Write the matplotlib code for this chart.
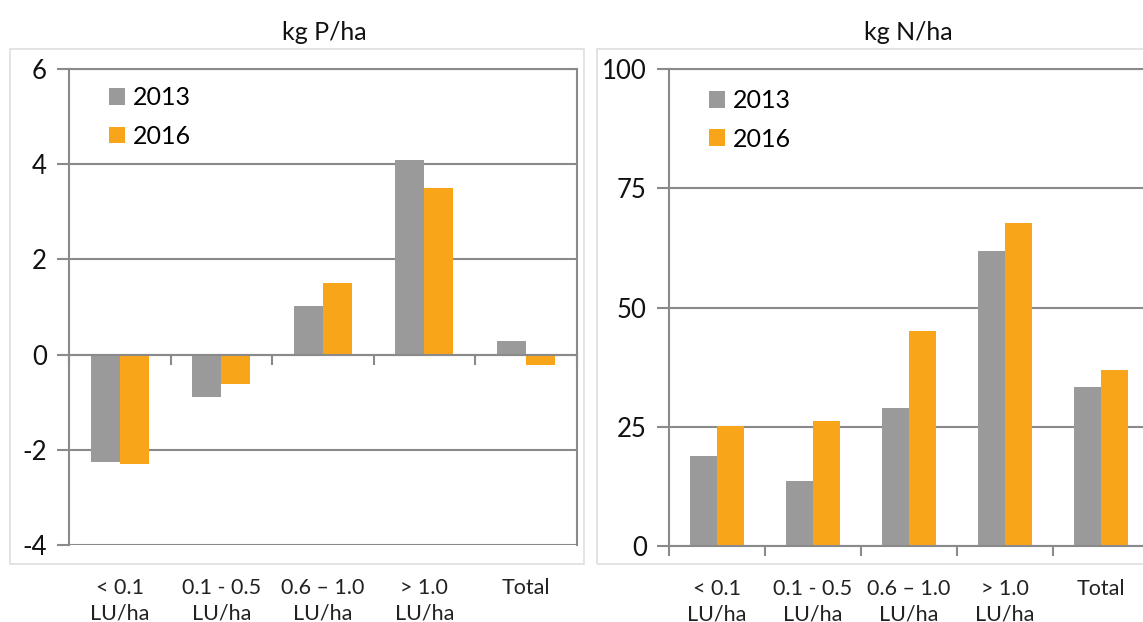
import numpy as np
import matplotlib
matplotlib.use("Agg")
import matplotlib.pyplot as plt
from matplotlib.patches import Rectangle
from matplotlib.transforms import blended_transform_factory

plt.rcParams['font.family'] = ['Lato', 'DejaVu Sans']

# data
categories = ["< 0.1\nLU/ha", "0.1 - 0.5\nLU/ha", "0.6 \u2013 1.0\nLU/ha", "> 1.0\nLU/ha", "Total"]
years = ["2013", "2016"]
p_2013 = [-2.26, -0.90, 1.02, 4.08, 0.28]
p_2016 = [-2.29, -0.62, 1.50, 3.49, -0.22]
n_2013 = [18.9, 13.6, 29.0, 61.9, 33.4]
n_2016 = [25.2, 26.3, 45.1, 67.7, 37.0]
p_ticks = [-4, -2, 0, 2, 4, 6]
n_ticks = [0, 25, 50, 75, 100]

gray = '#9a9a9a'
orange = '#f9a51a'
line_col = '#8a8a8a'

W, H = 1143, 622
fig = plt.figure(figsize=(W / 100, H / 100), dpi=100)

# light panel frames
fig.patches.append(Rectangle((9.6 / W, 1 - 564 / H), (584 - 9.6) / W, (564 - 49) / H,
                             transform=fig.transFigure, fill=False, ec='#dedede', lw=1.2))
fig.patches.append(Rectangle((597 / W, 1 - 564 / H), (1160 - 597) / W, (564 - 49) / H,
                             transform=fig.transFigure, fill=False, ec='#dedede', lw=1.2))

ax1 = fig.add_axes([69 / W, 1 - 545 / H, 507.5 / W, 476 / H])
ax2 = fig.add_axes([669 / W, 1 - 546 / H, 480 / W, 477 / H])

x = np.arange(len(categories))
bw = 1 / 3.5


def draw(ax, v13, v16, ticks, ylim, zero_axis, leg_anchor):
    ax.bar(x - bw / 2, v13, bw, color=gray, label=years[0], zorder=3)
    ax.bar(x + bw / 2, v16, bw, color=orange, label=years[1], zorder=3)
    ax.set_xlim(-0.5, len(categories) - 0.5)
    ax.set_ylim(*ylim)
    ax.set_yticks(ticks)
    ax.set_yticklabels([str(t) for t in ticks], fontsize=18.5, color='#111111')
    ax.tick_params(axis='y', length=9, width=1.5, color=line_col, pad=7)
    ax.yaxis.grid(True, color=line_col, lw=1.5, zorder=1)
    for s in ['left', 'right', 'top']:
        ax.spines[s].set_color(line_col)
        ax.spines[s].set_linewidth(1.5)
    ax.spines['right'].set_visible(ax is ax1)
    ax.spines['bottom'].set_position(('data', zero_axis))
    ax.spines['bottom'].set_color(line_col)
    ax.spines['bottom'].set_linewidth(1.5)
    ax.spines['bottom'].set_zorder(4)
    ax.set_xticks(np.arange(-0.5, len(categories), 1.0))
    ax.set_xticklabels([])
    ax.tick_params(axis='x', length=7, width=1.5, color=line_col)
    tr = blended_transform_factory(ax.transData, ax.transAxes)
    for xi, lab in zip(x, categories):
        ax.text(xi, -0.069, lab, transform=tr, ha='center', va='top',
                fontsize=15.5, color='#222222', linespacing=1.33)
    ax.legend(loc='upper left', bbox_to_anchor=leg_anchor, frameon=False, fontsize=18,
              handlelength=0.65, handleheight=0.65, handletextpad=0.3,
              labelspacing=0.62, borderpad=0, borderaxespad=0)


draw(ax1, p_2013, p_2016, p_ticks, (-4, 6), 0, (0.079, 0.964))
draw(ax2, n_2013, n_2016, n_ticks, (0, 100), 0, (0.083, 0.958))

fig.text(324.5 / W, 1 - 33 / H, "kg P/ha", ha='center', va='center', fontsize=18, color='#111111')
fig.text(908.5 / W, 1 - 33 / H, "kg N/ha", ha='center', va='center', fontsize=18, color='#111111')

fig.savefig('out.png', dpi=100)
